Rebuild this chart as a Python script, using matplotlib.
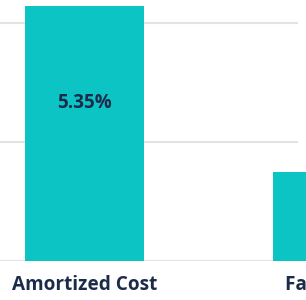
import matplotlib.pyplot as plt
from matplotlib.transforms import blended_transform_factory

categories = ['Amortized Cost', 'Fair Value']
values = [5.35, 1.87]
value_labels = ['5.35%', '1.87%']
grid_values = [0, 2.5, 5.0]

bar_color = '#0cc4c4'
text_color = '#1c2b4a'
grid_color = '#e3e3e3'

fig = plt.figure(figsize=(3.06, 3.0), dpi=100)
ax = fig.add_axes([0, 39 / 300, 1, 261 / 300])

x = list(range(len(categories)))
ax.bar(x, values, width=0.48, color=bar_color, zorder=2, clip_on=False)

for g in grid_values:
    ax.axhline(g, xmin=0, xmax=297 / 306, color=grid_color, lw=1.5, zorder=1)

ax.set_xlim(-84.5 / 248, (306 - 84.5) / 248)
ax.set_ylim(0, 261 / 119 * 2.5)
ax.axis('off')

# value label inside the first bar
ax.text(x[0], values[0] * 0.62, value_labels[0], ha='center', va='center',
        fontsize=13.5, fontweight='bold', color=text_color, family='Open Sans')

# category labels under the baseline (second one runs off the right edge)
trans = blended_transform_factory(ax.transData, fig.transFigure)
for xi, cat in zip(x, categories):
    fig.text(xi, 1 - 285 / 300, cat, transform=trans, ha='center', va='center',
             fontsize=13.7, fontweight='bold', color=text_color, family='Open Sans')

fig.savefig('out.png', dpi=100)
